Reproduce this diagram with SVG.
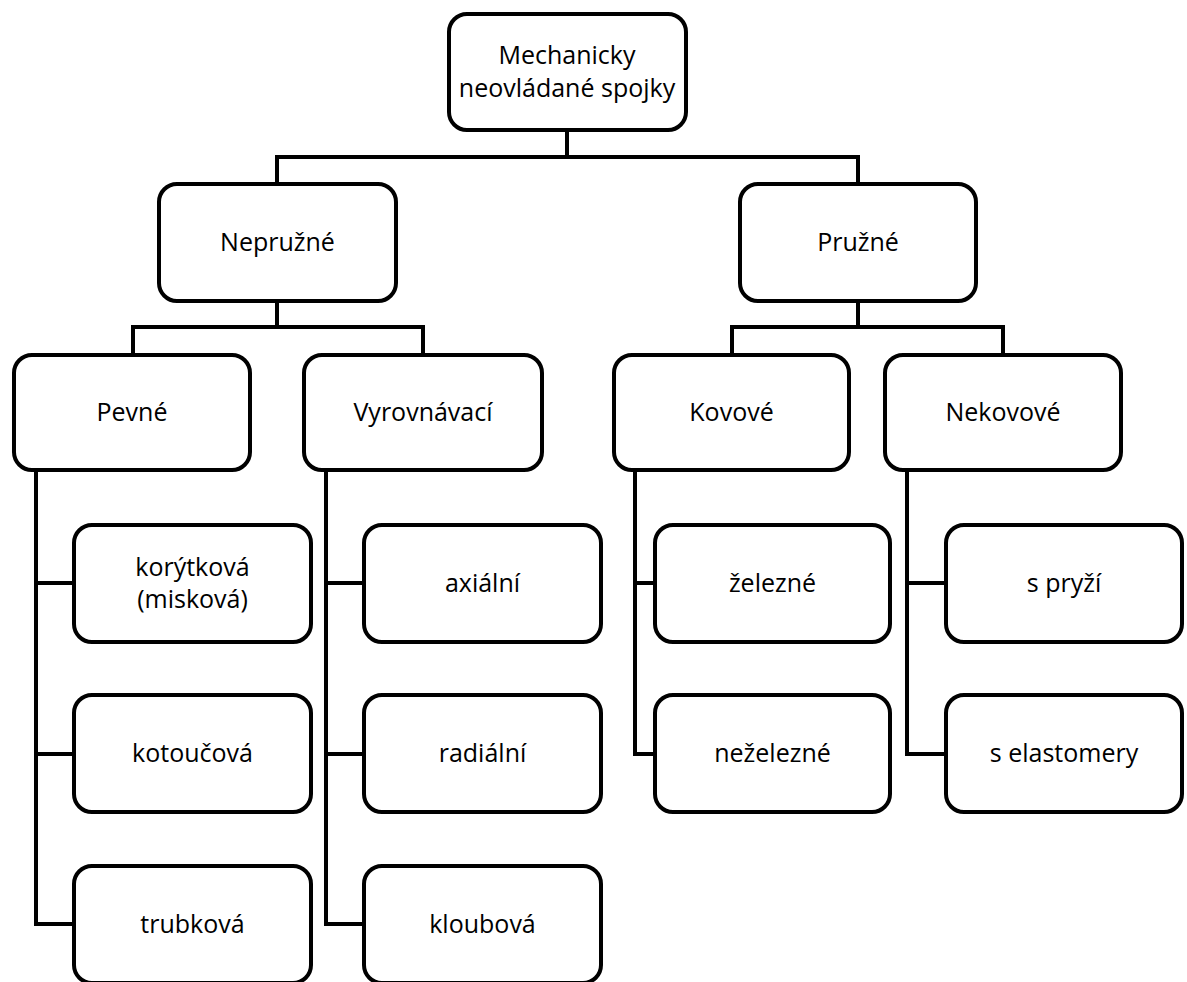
<svg xmlns="http://www.w3.org/2000/svg" width="1187" height="982" viewBox="0 0 1187 982">
<style>
.box{fill:#fff;stroke:#000;stroke-width:4}
.ln{fill:none;stroke:#000;stroke-width:4;stroke-linecap:square}
text{font-family:"Open Sans","Noto Sans",sans-serif;font-size:25px;fill:#000;text-anchor:middle}
</style>
<rect width="1187" height="982" fill="#fff"/>
<g id="connectors">
<path class="ln" d="M567 132V157M277 157H858M277 157V182M858 157V182"/>
<path class="ln" d="M277 303V327M133 327H423M133 327V353M423 327V353"/>
<path class="ln" d="M858 303V327M732 327H1003M732 327V353M1003 327V353"/>
<path class="ln" d="M36 472V924M36 583H72M36 754H72M36 924H72"/>
<path class="ln" d="M326 472V924M326 583H362M326 754H362M326 924H362"/>
<path class="ln" d="M635 472V754M635 583H653M635 754H653"/>
<path class="ln" d="M907 472V754M907 583H944M907 754H944"/>
</g>
<g id="root"><rect class="box" x="449" y="14" width="237" height="116" rx="18"/><text x="567" y="64">Mechanicky</text><text x="567" y="97">neovládané spojky</text></g>
<g id="nepruzne"><rect class="box" x="159" y="184" width="237" height="117" rx="18"/><text x="277.5" y="251">Nepružné</text></g>
<g id="pruzne"><rect class="box" x="740" y="184" width="236" height="117" rx="18"/><text x="858" y="251">Pružné</text></g>
<g id="pevne"><rect class="box" x="14" y="355" width="236" height="115" rx="18"/><text x="132" y="421">Pevné</text></g>
<g id="vyrovnavaci"><rect class="box" x="304" y="355" width="238" height="115" rx="18"/><text x="423" y="421">Vyrovnávací</text></g>
<g id="kovove"><rect class="box" x="614" y="355" width="235" height="115" rx="18"/><text x="731.5" y="421">Kovové</text></g>
<g id="nekovove"><rect class="box" x="885" y="355" width="236" height="115" rx="18"/><text x="1003" y="421">Nekovové</text></g>
<g id="korytkova"><rect class="box" x="74" y="525" width="237" height="117" rx="18"/><text x="192.5" y="576">korýtková</text><text x="192.5" y="608">(misková)</text></g>
<g id="kotoucova"><rect class="box" x="74" y="695" width="237" height="117" rx="18"/><text x="192.5" y="762">kotoučová</text></g>
<g id="trubkova"><rect class="box" x="74" y="866" width="237" height="117" rx="18"/><text x="192.5" y="933">trubková</text></g>
<g id="axialni"><rect class="box" x="364" y="525" width="237" height="117" rx="18"/><text x="482.5" y="592">axiální</text></g>
<g id="radialni"><rect class="box" x="364" y="695" width="237" height="117" rx="18"/><text x="482.5" y="762">radiální</text></g>
<g id="kloubova"><rect class="box" x="364" y="866" width="237" height="117" rx="18"/><text x="482.5" y="933">kloubová</text></g>
<g id="zelezne"><rect class="box" x="655" y="525" width="235" height="117" rx="18"/><text x="772.5" y="592">železné</text></g>
<g id="nezelezne"><rect class="box" x="655" y="695" width="235" height="117" rx="18"/><text x="772.5" y="762">neželezné</text></g>
<g id="spryzi"><rect class="box" x="946" y="525" width="236" height="117" rx="18"/><text x="1064" y="592">s pryží</text></g>
<g id="selastomery"><rect class="box" x="946" y="695" width="236" height="117" rx="18"/><text x="1064" y="762">s elastomery</text></g>
</svg>
